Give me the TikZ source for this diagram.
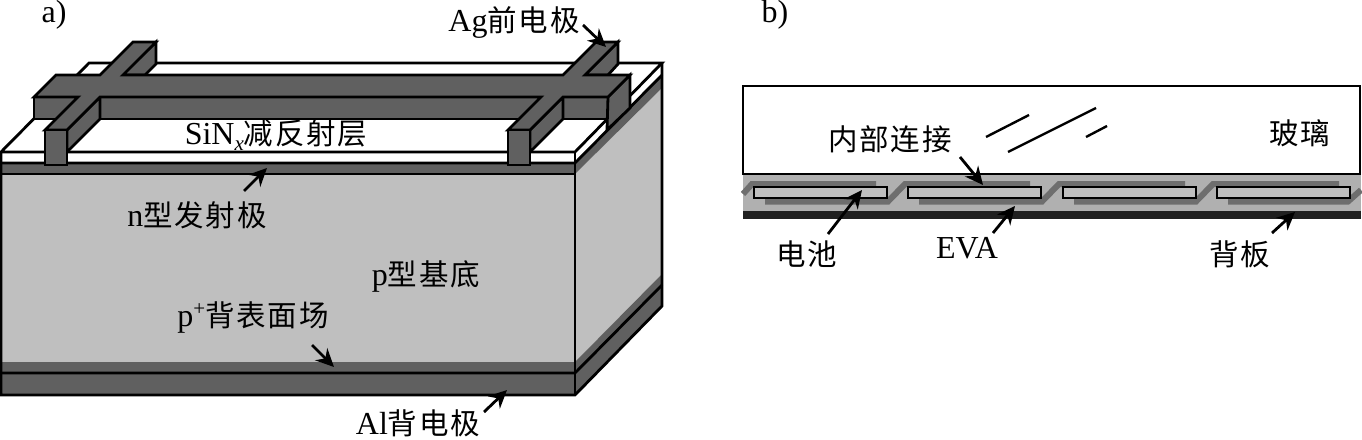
\documentclass[tikz,border=0pt]{standalone}
\usepackage{fontspec}
\setmainfont{Liberation Serif}
\newfontfamily\cjk{Noto Sans CJK SC}[Scale=1]
\usetikzlibrary{arrows.meta}
\definecolor{bodygray}{HTML}{BFBFBF}
\definecolor{darkgray}{HTML}{606060}
\definecolor{evagray}{HTML}{B0B0B0}
\definecolor{linkgray}{HTML}{6E6E6E}
\definecolor{backsheet}{HTML}{202020}
\newcommand{\zh}[1]{{\cjk\fontsize{29.5}{30}\selectfont\addfontfeatures{LetterSpace=6}#1}}
\newcommand{\smalltxt}[1]{{\fontsize{21}{21}\selectfont #1}}
\tikzset{
  edge/.style={draw=black,line width=2.8pt,line join=miter},
  darkface/.style={edge,fill=darkgray},
  lbl/.style={anchor=base,inner sep=0pt,font=\fontsize{32}{33}\selectfont},
  pointer/.style={draw=black,line width=2.8pt,-{Stealth[length=18pt,width=17pt]}},
  linkstrip/.style={draw=linkgray,line width=6pt,line join=miter},
  cellbox/.style={draw=black,line width=2.6pt,fill=bodygray},
  scratch/.style={draw=black,line width=2.4pt}
}
\begin{document}
\begin{tikzpicture}[x=1pt,y=-1pt]
\useasboundingbox (0,0) rectangle (1362,439);
% ---- a) cell: body
\fill[bodygray] (1,174) rectangle (575,362);
\fill[darkgray] (1,362) rectangle (575,373);
\fill[darkgray] (1,373) rectangle (575,395);
\fill[darkgray] (1,163) rectangle (575,174);
\fill[white] (1,152) rectangle (575,163);
% right side
\fill[bodygray] (575,174) -- (662,88) -- (662,274) -- (575,362) -- cycle;
\fill[darkgray] (575,362) -- (662,274) -- (662,306) -- (575,395) -- cycle;
\fill[darkgray] (575,163) -- (662,75) -- (662,88) -- (575,174) -- cycle;
\fill[white] (575,152) -- (662,63) -- (662,75) -- (575,163) -- cycle;
% outlines
\draw[edge,fill=white] (1,152) -- (89,63) -- (662,63) -- (575,152) -- cycle;
\draw[edge] (1,163) -- (575,163) -- (662,75);
\draw[edge] (1,174) -- (575,174);
\draw[edge] (1,373) -- (575,373) -- (662,285);
\draw[edge] (1,152) -- (1,395) -- (575,395) -- (662,306) -- (662,63);
\draw[edge] (575,152) -- (575,395);
% ---- electrodes
\draw[darkface] (34,97) rectangle (608,119);
\draw[darkface] (608,97) -- (630,75) -- (630,108) -- (607,130) -- cycle;
\draw[darkface] (156,42) -- (156,64) -- (145,75) -- (122,75) -- cycle;
\draw[darkface] (618,42) -- (618,64) -- (608,75) -- (585,75) -- cycle;
\draw[darkface] (67,130) -- (100,97) -- (100,119) -- (67,152) -- cycle;
\draw[darkface] (530,130) -- (563,97) -- (563,119) -- (530,152) -- cycle;
\draw[darkface] (34,97) -- (56,75) -- (100,75) -- (133,42) -- (156,42) -- (123,75)
  -- (563,75) -- (596,42) -- (618,42) -- (585,75) -- (630,75) -- (608,97) -- (563,97)
  -- (530,130) -- (508,130) -- (541,97) -- (100,97) -- (67,130) -- (45,130) -- (78,97) -- cycle;
\draw[darkface] (45,130) rectangle (67,165);
\draw[darkface] (508,130) rectangle (530,165);
% ---- a) labels
\node[lbl] (la) at (54,23) {a)};
\node[lbl] (lag) at (514,31) {Ag\zh{前电极}};
\node[lbl] (lsin) at (276,144) {SiN\raisebox{-6pt}{\smalltxt{\textit{x}}}\zh{减反射层}};
\node[lbl] (ln) at (197,226) {n\zh{型发射极}};
\node[lbl] (lp) at (426,285) {p\zh{型基底}};
\node[lbl] (lbsf) at (253,326) {p\raisebox{11pt}{\smalltxt{+}}\zh{背表面场}};
\node[lbl] (lal) at (418,434) {Al\zh{背电极}};
% ---- a) pointers
\coordinate (nA) at (244,191); \coordinate (nB) at (267,168);
\coordinate (agA) at (583,25); \coordinate (agB) at (606,47);
\coordinate (bsfA) at (312,345); \coordinate (bsfB) at (334,367);
\coordinate (alA) at (484,412); \coordinate (alB) at (507,390);
\draw[pointer] (nA) -- (nB);
\draw[pointer] (agA) -- (agB);
\draw[pointer] (bsfA) -- (bsfB);
\draw[pointer] (alA) -- (alB);
% ---- b) module
\fill[evagray] (743,174) rectangle (1361,211);
\fill[backsheet] (743,211) rectangle (1361,219);
\draw[edge,fill=white] (743,86) rectangle (1360,174);
\draw[linkstrip] (743,194) -- (752,184) -- (876,184);
\draw[linkstrip] (765,201.5) -- (888,201.5) -- (905,184) -- (1030,184);
\draw[linkstrip] (919,201.5) -- (1042,201.5) -- (1059,184) -- (1185,184);
\draw[linkstrip] (1074,201.5) -- (1196,201.5) -- (1213,184) -- (1339,184);
\draw[linkstrip] (1228,201.5) -- (1348,201.5) -- (1361,190);
\draw[cellbox] (754,187) rectangle (887,198);
\draw[cellbox] (908,187) rectangle (1041,198);
\draw[cellbox] (1063,187) rectangle (1196,198);
\draw[cellbox] (1217,187) rectangle (1350,198);
\draw[scratch] (986,137) -- (1029,115);
\draw[scratch] (1008,152) -- (1096,108);
\draw[scratch] (1086,137) -- (1107,126);
% ---- b) labels
\node[lbl] (lb) at (775,23) {b)};
\node[lbl] (lint) at (890,150) {\zh{内部连接}};
\node[lbl] (lgl) at (1300,144) {\zh{玻璃}};
\node[lbl] (lcell) at (807,265) {\zh{电池}};
\node[lbl] (leva) at (967,258) {EVA};
\node[lbl] (lbs) at (1240,265) {\zh{背板}};
% ---- b) pointers
\coordinate (intA) at (960,157); \coordinate (intB) at (983,185);
\coordinate (cellA) at (828,234); \coordinate (cellB) at (862,190);
\coordinate (evaA) at (993,233); \coordinate (evaB) at (1015,206);
\coordinate (bsA) at (1272,233); \coordinate (bsB) at (1295,212);
\draw[pointer] (intA) -- (intB);
\draw[pointer] (cellA) -- (cellB);
\draw[pointer] (evaA) -- (evaB);
\draw[pointer] (bsA) -- (bsB);
\end{tikzpicture}
\end{document}
